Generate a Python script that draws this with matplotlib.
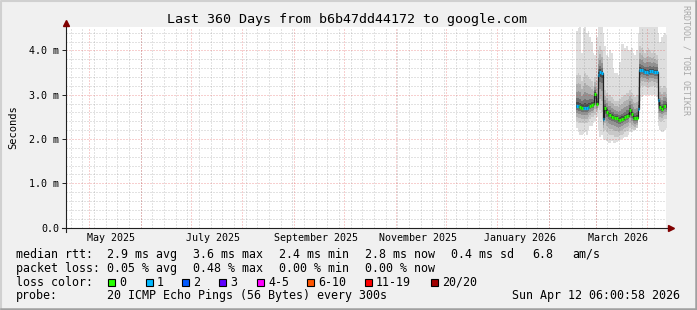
"""
SmokePing style 360-day latency graph (b6b47dd44172 -> google.com)
"""

import numpy as np
import pandas as pd
import matplotlib
matplotlib.use("Agg")
import matplotlib.pyplot as plt
import matplotlib.dates as mdates
from matplotlib.lines import Line2D
from matplotlib.patches import Rectangle

plt.rcParams['font.family'] = ['DejaVu Sans Mono']

# ── data ──
T_START = np.datetime64('2025-04-17T06:00:58')
T_END = np.datetime64('2026-04-12T06:00:58')
FIRST_SAMPLE = '2026-02-17 06:00'

median = [2.74, 2.74, 2.73, 2.71, 2.71, 2.71, 2.70, 2.72, 2.74, 2.76, 2.78, 3.01, 2.80,
          3.44, 3.51, 3.48,
          2.45, 2.70, 2.62, 2.55, 2.54, 2.50, 2.50, 2.48, 2.47, 2.43, 2.43, 2.45, 2.46,
          2.49, 2.51, 2.53, 2.65, 2.56, 2.48, 2.47, 2.47,
          2.67,
          3.55, 3.55, 3.54, 3.52, 3.51, 3.50, 3.53, 3.53, 3.52, 3.51, 3.52,
          2.88, 2.72, 2.68, 2.74, 2.74, 2.73]
smoke_hi = [4.45, 4.50, 4.55, 3.95, 4.50, 4.55, 4.40, 4.45, 4.30, 4.20, 3.95, 3.90, 4.30,
            4.60, 4.60, 4.60,
            4.40, 4.10, 3.90, 3.85, 4.00, 3.95, 3.60, 3.50, 3.50, 3.45, 3.75, 4.15, 4.15,
            4.05, 4.10, 4.00, 4.00, 4.05, 3.95, 3.90, 4.00,
            4.40,
            4.60, 4.60, 4.60, 4.60, 4.60, 4.60, 4.60, 4.60, 4.60, 4.60, 4.60,
            4.40, 4.20, 4.30, 4.35, 4.40, 4.35]
smoke_upper = [3.45, 3.50, 3.45, 3.30, 3.40, 3.50, 3.45, 3.40, 3.35, 3.30, 3.20, 3.40, 3.30,
               4.00, 4.10, 4.00,
               3.20, 3.10, 3.05, 3.00, 3.00, 2.95, 2.90, 2.85, 2.85, 2.85, 2.90, 2.95, 3.00,
               3.00, 3.05, 3.05, 3.10, 3.05, 3.00, 2.95, 3.00,
               3.40,
               4.10, 4.05, 4.00, 3.95, 4.00, 4.05, 4.00, 3.95, 4.00, 3.95, 3.90,
               3.40, 3.20, 3.15, 3.20, 3.20, 3.15]
smoke_lower = [2.40, 2.35, 2.35, 2.35, 2.35, 2.35, 2.35, 2.40, 2.45, 2.50, 2.50, 2.55, 2.60,
               2.70, 2.65, 2.60,
               2.15, 2.20, 2.15, 2.12, 2.10, 2.10, 2.08, 2.05, 2.05, 2.05, 2.08, 2.10, 2.12,
               2.15, 2.18, 2.20, 2.25, 2.22, 2.20, 2.20, 2.25,
               2.50,
               3.15, 3.20, 3.20, 3.20, 3.18, 3.15, 3.18, 3.20, 3.20, 3.18, 3.15,
               2.45, 2.40, 2.40, 2.42, 2.45, 2.45]
smoke_lo = [2.25, 2.15, 2.10, 2.10, 2.12, 2.15, 2.10, 2.20, 2.30, 2.30, 2.35, 2.40, 2.50,
            2.20, 2.05, 2.10,
            2.00, 1.98, 1.95, 1.92, 1.90, 1.95, 1.92, 1.90, 1.93, 1.95, 1.98, 2.00, 2.02,
            2.05, 2.05, 2.10, 2.15, 2.15, 2.20, 2.20, 2.25,
            2.60,
            2.85, 2.95, 3.00, 3.00, 3.00, 3.00, 3.00, 3.00, 3.00, 3.00, 2.95,
            2.30, 2.20, 2.15, 2.15, 2.20, 2.25]
loss = [1, 1, 0, 0, 1, 1, 1, 1, 0, 0, 0, 0, 0,
        1, 1, 1,
        1, 0, 0, 0, 0, 0, 0, 0, 0, 0, 0, 0, 0, 0, 0, 0, 0, 0, 0, 0, 0,
        1,
        1, 1, 1, 1, 1, 1, 1, 1, 1, 1, 1,
        1, 0, 0, 0, 0, 0]

month_labels = ['May 2025', 'July 2025', 'September 2025',
                'November 2025', 'January 2026', 'March 2026']
month_label_starts = ['2025-05-01', '2025-07-01', '2025-09-01',
                      '2025-11-01', '2026-01-01', '2026-03-01']
y_ticks = [0.0, 1.0, 2.0, 3.0, 4.0]
y_tick_labels = ['0.0', '1.0 m', '2.0 m', '3.0 m', '4.0 m']

loss_names = ['0', '1', '2', '3', '4-5', '6-10', '11-19', '20/20']
loss_colors = ['#26ff00', '#00b8ff', '#0059ff', '#5e00ff',
               '#ff00ff', '#ff5500', '#ff0000', '#a00000']
loss_box_x = [108, 145.5, 182, 219, 257, 307, 365, 431]

# ── figure / canvas ──
W, H = 697, 310
fig = plt.figure(figsize=(W / 100, H / 100), dpi=100, facecolor='#f0f0f0')
ax = fig.add_axes([66 / W, (H - 227.5) / H, 600 / W, 200.5 / H])
ax.set_facecolor('white')

x0 = mdates.date2num(T_START)
x1 = mdates.date2num(T_END)
ax.set_xlim(x0, x1)
ax.set_ylim(0, 4.53)

samples = pd.date_range(FIRST_SAMPLE, periods=len(median), freq='D')
edges = mdates.date2num(samples.append(pd.DatetimeIndex([samples[-1] + pd.Timedelta(days=1)])))
med = np.array(median)
hi = np.array(smoke_hi)
up = np.array(smoke_upper)
low = np.array(smoke_lower)
lo = np.array(smoke_lo)


def ext(a):
    return np.r_[a, a[-1]]


# ── smoke ──
ax.fill_between(edges, ext(lo), ext(hi), step='post', color='#dedede', lw=0, zorder=1)
ax.fill_between(edges, ext(low), ext(up), step='post', color='#c8c8c8', lw=0, zorder=1)
for f, c in [(0.7, '#b0b0b0'), (0.45, '#929292'), (0.25, '#707070'), (0.12, '#4a4a4a')]:
    ax.fill_between(edges, ext(med - f * (med - low)), ext(med + f * (up - med)),
                    step='post', color=c, lw=0, zorder=1)

# ── grid ──
GRID = dict(color='#808080', alpha=0.45, lw=0.72, ls=(0, (1, 2)), zorder=2)
MGRID = dict(color='#e04040', alpha=0.5, lw=0.72, ls=(0, (1, 2)), zorder=2)
for d in pd.date_range('2025-04-20', '2026-04-12', freq='W-SUN'):
    ax.axvline(mdates.date2num(d), **GRID)
for d in pd.date_range('2025-05-01', '2026-04-01', freq='MS'):
    ax.axvline(mdates.date2num(d), **MGRID)
for v in np.arange(0.2, 4.6, 0.2):
    if abs(v - round(v)) < 1e-6:
        ax.axhline(v, **MGRID)
    else:
        ax.axhline(v, **GRID)

# ── median line ──
ax.stairs(med, edges, baseline=None, color='#202020', lw=0.9, zorder=3)
seg_colors = [loss_colors[k] for k in loss]
ax.hlines(med, edges[:-1], edges[1:], colors=seg_colors, lw=2.3,
          capstyle='butt', zorder=4)

# ── axes ──
for s in ax.spines.values():
    s.set_visible(False)
ax.set_yticks(y_ticks)
ax.set_yticklabels(y_tick_labels)
label_pos = [mdates.date2num(pd.Timestamp(m) + pd.Timedelta(days=13.5))
             for m in month_label_starts]
ax.set_xticks(label_pos)
ax.set_xticklabels(month_labels)
ax.tick_params(axis='x', length=0, pad=4, labelsize=7.2)
ax.tick_params(axis='y', length=3, width=0.7, color='#202020', pad=2, labelsize=7.2)

ax.add_line(Line2D([0, 0], [-0.02, 1.02], transform=ax.transAxes,
                   color='#202020', lw=0.8, clip_on=False, zorder=5))
ax.add_line(Line2D([-0.006, 1.008], [0, 0], transform=ax.transAxes,
                   color='#202020', lw=0.8, clip_on=False, zorder=5))
ax.plot([0], [1.02], marker='^', ms=4, color='#800000', transform=ax.transAxes,
        clip_on=False, zorder=6)
ax.plot([1.008], [0], marker='>', ms=4, color='#800000', transform=ax.transAxes,
        clip_on=False, zorder=6)

ax.set_ylabel('Seconds', fontsize=7.5)
ax.yaxis.set_label_coords(-48 / 600, 0.5)

# ── title / watermark ──
fig.text(347 / W, 1 - 19 / H, 'Last 360 Days from b6b47dd44172 to google.com',
         ha='center', va='center', fontsize=9.6)
fig.text(686 / W, 1 - 60 / H, 'RRDTOOL / TOBI OETIKER', rotation=270,
         ha='center', va='center', fontsize=6, color='#a8a8a8')

# ── legend lines ──
fs = 8.4


def put(x, y, s, **kw):
    fig.text(x / W, 1 - y / H, s, fontsize=fs, va='center', ha=kw.get('ha', 'left'))


row1 = 254.3
put(16, row1, 'median rtt:')
for x, s in [(107, '2.9 ms avg'), (193.3, '3.6 ms max'), (279.3, '2.4 ms min'),
             (365, '2.8 ms now'), (451, '0.4 ms sd'), (532.7, '6.8'), (572, 'am/s')]:
    put(x, row1, s)

row2 = 268.3
put(16, row2, 'packet loss:')
for x, s in [(107, '0.05 % avg'), (193.3, '0.48 % max'), (279.3, '0.00 % min'),
             (365, '0.00 % now')]:
    put(x, row2, s)

row3 = 282.3
put(16, row3, 'loss color:')
for bx, name, col in zip(loss_box_x, loss_names, loss_colors):
    fig.add_artist(Rectangle((bx / W, 1 - (row3 + 3.5) / H), 7 / W, 7 / H,
                             facecolor=col, edgecolor='black', lw=0.8,
                             transform=fig.transFigure))
    put(bx + 11, row3, name)

row4 = 296
put(16, row4, 'probe:')
put(107, row4, '20 ICMP Echo Pings (56 Bytes) every 300s')
put(680, row4, 'Sun Apr 12 06:00:58 2026', ha='right')

# ── 3D frame ──
fig.add_artist(Line2D([0.5 / W, 0.5 / W, 1 - 0.5 / W], [0, 1 - 0.5 / H, 1 - 0.5 / H],
                      transform=fig.transFigure, color='#d0d0d0', lw=1.5))
fig.add_artist(Line2D([0.5 / W, 1 - 1 / W, 1 - 1 / W], [1 / H, 1 / H, 1 - 0.5 / H],
                      transform=fig.transFigure, color='#a0a0a0', lw=1.8))

fig.savefig('out.png', dpi=100, facecolor=fig.get_facecolor())
